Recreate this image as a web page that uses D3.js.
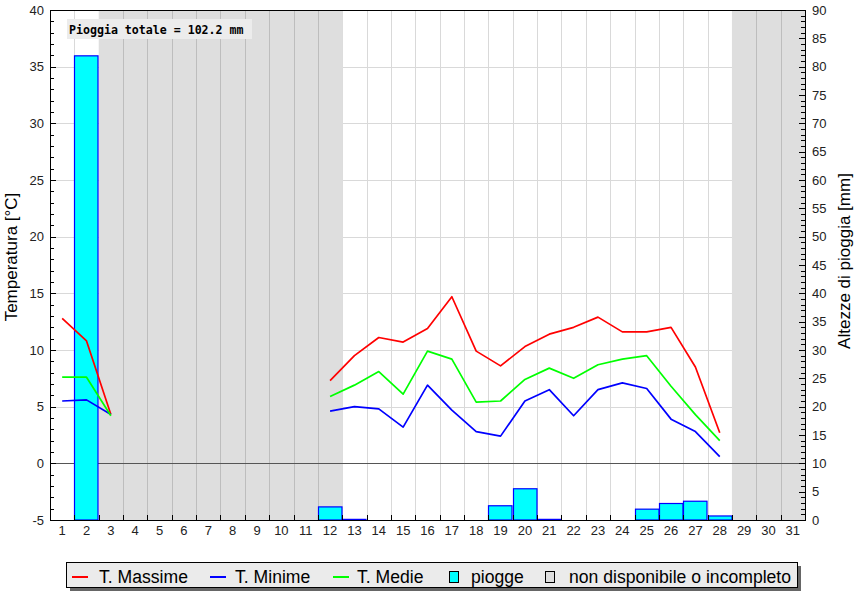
<!DOCTYPE html>
<html>
<head>
<meta charset="utf-8">
<script src="https://cdn.jsdelivr.net/npm/d3@7"></script>
<style>
html,body{margin:0;padding:0;background:#fff;}
svg{display:block;font-family:"Liberation Sans",Arial,sans-serif;}
</style>
</head>
<body>
<svg id="chart" width="865" height="600"></svg>
<script>
// ---- data ----
const days = d3.range(1, 32);
const tMax = [12.8, 10.8, 4.3, null, null, null, null, null, null, null, null,
  7.3, 9.5, 11.1, 10.7, 11.9, 14.7, 9.9, 8.6, 10.3, 11.4, 12.0, 12.9, 11.6, 11.6, 12.0, 8.5, 2.7,
  null, null, null];
const tMin = [5.5, 5.6, 4.3, null, null, null, null, null, null, null, null,
  4.6, 5.0, 4.8, 3.2, 6.9, 4.7, 2.8, 2.4, 5.5, 6.5, 4.2, 6.5, 7.1, 6.6, 3.9, 2.8, 0.6,
  null, null, null];
const tMed = [7.6, 7.6, 4.2, null, null, null, null, null, null, null, null,
  5.9, 6.9, 8.1, 6.1, 9.9, 9.2, 5.4, 5.5, 7.4, 8.4, 7.5, 8.7, 9.2, 9.5, 6.8, 4.3, 2.0,
  null, null, null];
const rain = [0, 82.0, null, null, null, null, null, null, null, null, null,
  2.4, 0.2, 0, 0, 0, 0, 0, 2.6, 5.6, 0.2, 0, 0, 0, 2.0, 3.0, 3.4, 0.8,
  null, null, null];
const missingDays = [3, 4, 5, 6, 7, 8, 9, 10, 11, 12, 29, 30, 31];
const tempTicks = d3.range(-5, 41, 5);
const rainTicks = d3.range(0, 91, 5);
const legendLabels = ["T. Massime", "T. Minime", "T. Medie", "piogge", "non disponibile o incompleto"];

// ---- layout ----
const L = 50, R = 805, T = 10, B = 520;
const svg = d3.select("#chart");
const x = d3.scaleBand().domain(days).range([L, R]).padding(0);
const yT = d3.scaleLinear().domain([-5, 40]).range([B, T]);
const yR = d3.scaleLinear().domain([0, 90]).range([B, T]);
const cx = d => x(d) + x.bandwidth() / 2;

// plot background
svg.append("rect").attr("x", L).attr("y", T).attr("width", R - L).attr("height", B - T).attr("fill", "#fff");

// horizontal grid
svg.append("g").selectAll("line").data(tempTicks.filter(t => t !== 0 && t !== -5 && t !== 40)).join("line")
  .attr("x1", L).attr("x2", R).attr("y1", d => Math.round(yT(d)) + 0.5).attr("y2", d => Math.round(yT(d)) + 0.5)
  .attr("stroke", "#d9d9d9").attr("stroke-width", 1);
// vertical grid (light)
svg.append("g").selectAll("line").data(days.slice(1)).join("line")
  .attr("x1", d => Math.round(x(d)) + 0.5).attr("x2", d => Math.round(x(d)) + 0.5)
  .attr("y1", T).attr("y2", B).attr("stroke", "#d9d9d9");

// missing-data bands
svg.append("g").selectAll("rect").data(missingDays).join("rect")
  .attr("x", d => x(d)).attr("y", T).attr("width", x.bandwidth() + 0.5).attr("height", B - T)
  .attr("fill", "#dedede");
// vertical grid inside grey
const isMiss = d => missingDays.includes(d);
svg.append("g").selectAll("line").data(days.slice(1).filter(d => isMiss(d) && isMiss(d - 1))).join("line")
  .attr("x1", d => Math.round(x(d)) + 0.5).attr("x2", d => Math.round(x(d)) + 0.5)
  .attr("y1", T).attr("y2", B).attr("stroke", "#bdbdbd");

// zero line
svg.append("line").attr("x1", L).attr("x2", R).attr("y1", Math.round(yT(0)) + 0.5).attr("y2", Math.round(yT(0)) + 0.5)
  .attr("stroke", "#555").attr("stroke-width", 1);

// rain bars
svg.append("g").selectAll("rect").data(days.filter((d, i) => rain[i] != null && rain[i] > 0)).join("rect")
  .attr("x", d => Math.round(x(d)) + 0.5)
  .attr("y", d => yR(rain[d - 1]) + 0.5)
  .attr("width", Math.round(x.bandwidth()) - 0.5)
  .attr("height", d => Math.max(0.5, B - yR(rain[d - 1]) - 0.5))
  .attr("fill", "#00ffff").attr("stroke", "#0000ff").attr("stroke-width", 1.2);

// temperature lines
const line = d3.line().defined(d => d[1] != null).x(d => cx(d[0])).y(d => yT(d[1]));
[[tMax, "#ff0000"], [tMin, "#0000ff"], [tMed, "#00ff00"]].forEach(([arr, col]) => {
  svg.append("path").datum(days.map((d, i) => [d, arr[i]]))
    .attr("d", line).attr("fill", "none").attr("stroke", col).attr("stroke-width", 1.7)
    .attr("stroke-linejoin", "round");
});

// frame
svg.append("rect").attr("x", L + 0.5).attr("y", T + 0.5).attr("width", R - L).attr("height", B - T)
  .attr("fill", "none").attr("stroke", "#000").attr("stroke-width", 1);

// left axis ticks
const g = svg.append("g");
d3.range(-5, 41).forEach(t => {
  const major = t % 5 === 0;
  g.append("line").attr("x1", L).attr("x2", L + (major ? 6 : 4))
    .attr("y1", Math.round(yT(t)) + 0.5).attr("y2", Math.round(yT(t)) + 0.5).attr("stroke", "#000");
});
g.selectAll("text.lt").data(tempTicks).join("text").attr("class", "lt")
  .attr("x", 44).attr("y", d => yT(d)).attr("dy", "0.36em").attr("text-anchor", "end")
  .attr("font-size", 13).attr("fill", "#222").text(d => d);

// right axis ticks
d3.range(0, 91).forEach(r => {
  const major = r % 5 === 0;
  g.append("line").attr("x1", R - (major ? 6 : 4)).attr("x2", R)
    .attr("y1", Math.round(yR(r)) + 0.5).attr("y2", Math.round(yR(r)) + 0.5).attr("stroke", "#000");
});
g.selectAll("text.rt").data(rainTicks).join("text").attr("class", "rt")
  .attr("x", 812).attr("y", d => yR(d)).attr("dy", "0.36em").attr("text-anchor", "start")
  .attr("font-size", 13).attr("fill", "#222").text(d => d);

// bottom ticks
days.slice(1).forEach(d => {
  g.append("line").attr("x1", Math.round(x(d)) + 0.5).attr("x2", Math.round(x(d)) + 0.5)
    .attr("y1", B).attr("y2", B - 5).attr("stroke", "#000");
});
g.selectAll("text.bt").data(days).join("text").attr("class", "bt")
  .attr("x", d => cx(d)).attr("y", 535).attr("text-anchor", "middle")
  .attr("font-size", 13).attr("fill", "#222").text(d => d);

// axis titles
svg.append("text").attr("transform", "translate(17,257) rotate(-90)").attr("text-anchor", "middle")
  .attr("font-size", 17).attr("fill", "#000").text("Temperatura [°C]");
svg.append("text").attr("transform", "translate(850,261) rotate(-90)").attr("text-anchor", "middle")
  .attr("font-size", 17).attr("fill", "#000").text("Altezze di pioggia [mm]");

// total rain label
const total = d3.sum(rain.filter(v => v != null));
svg.append("rect").attr("x", 67).attr("y", 19).attr("width", 185).attr("height", 20).attr("fill", "#ececec");
svg.append("text").attr("x", 69).attr("y", 33.5)
  .style("font-family", "'DejaVu Sans Mono',monospace").style("font-weight", "bold").style("font-size", "11.6px")
  .attr("fill", "#000").text("Pioggia totale = " + total.toFixed(1) + " mm");

// legend
const lg = svg.append("g");
lg.append("rect").attr("x", 70).attr("y", 566).attr("width", 731).attr("height", 25).attr("fill", "#666");
lg.append("rect").attr("x", 66.5).attr("y", 562.5).attr("width", 731).attr("height", 25)
  .attr("fill", "#ebebeb").attr("stroke", "#000").attr("stroke-width", 1);
const textX = [99, 235, 357, 471, 569];
const swX = [72, 210, 333];
const swCol = ["#ff0000", "#0000ff", "#00ff00"];
swX.forEach((sx, i) => {
  lg.append("line").attr("x1", sx).attr("x2", sx + 16).attr("y1", 577).attr("y2", 577)
    .attr("stroke", swCol[i]).attr("stroke-width", 2);
});
lg.append("rect").attr("x", 449.5).attr("y", 571.5).attr("width", 9).attr("height", 11)
  .attr("fill", "#00ffff").attr("stroke", "#000");
lg.append("rect").attr("x", 545.5).attr("y", 571.5).attr("width", 9).attr("height", 11)
  .attr("fill", "#dedede").attr("stroke", "#000");
legendLabels.forEach((t, i) => {
  lg.append("text").attr("x", textX[i]).attr("y", 583).attr("font-size", 17.6).attr("fill", "#000").text(t);
});
</script>
</body>
</html>
